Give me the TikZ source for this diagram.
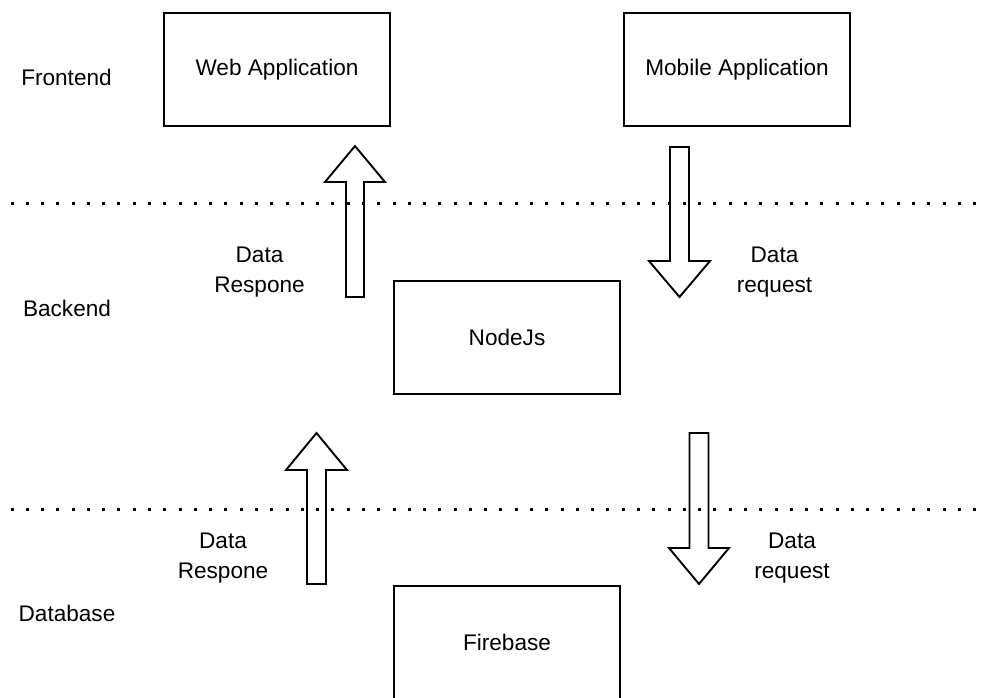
\documentclass[tikz,border=0pt]{standalone}
\usepackage{fontspec}
\setmainfont{Liberation Sans}
\begin{document}
\begin{tikzpicture}[x=1pt,y=-1pt,
  box/.style={draw=black, line width=1.9pt, minimum width=226pt, minimum height=113pt, inner sep=0pt, font=\fontsize{22.6pt}{30pt}\selectfont},
  lbl/.style={inner sep=0pt, align=center, font=\fontsize{22.6pt}{30pt}\selectfont},
  sepline/.style={line width=3pt, dash pattern=on 3pt off 12.28pt},
  blk/.style={draw=black, line width=1.9pt, line join=miter}]
\useasboundingbox (0,0) rectangle (986,697);
\clip (0,0) rectangle (986,697);
% separators
\draw[sepline] (10.5,203) -- (986,203);
\draw[sepline] (10.5,509) -- (986,509);
% layer labels
\node[lbl] (fe) at (66.5,77) {Frontend};
\node[lbl] (be) at (67,308) {Backend};
\node[lbl] (db) at (67,613) {Database};
% boxes
\node[box] (web) at (277,69.5) {Web Application};
\node[box] (mob) at (737,69.5) {Mobile Application};
\node[box] (node) at (507,337.5) {NodeJs};
\node[box] (fire) at (507,642.5) {Firebase};
% block arrows
\draw[blk] (346,297) -- (346,182) -- (325,182) -- (355,146) -- (385,182) -- (364,182) -- (364,297) -- cycle;
\draw[blk] (670,147) -- (670,261) -- (649,261) -- (679.5,297) -- (710,261) -- (689,261) -- (689,147) -- cycle;
\draw[blk] (307,584) -- (307,470) -- (286,470) -- (316.5,433) -- (347,470) -- (326,470) -- (326,584) -- cycle;
\draw[blk] (689.5,433) -- (689.5,548) -- (669,548) -- (699,584) -- (729,548) -- (708.5,548) -- (708.5,433) -- cycle;
% arrow labels
\node[lbl] (resp1) at (259.5,272) {Data\\Respone};
\node[lbl] (req1) at (774.5,272) {Data\\request};
\node[lbl] (resp2) at (223,558) {Data\\Respone};
\node[lbl] (req2) at (792,558) {Data\\request};
\end{tikzpicture}
\end{document}
